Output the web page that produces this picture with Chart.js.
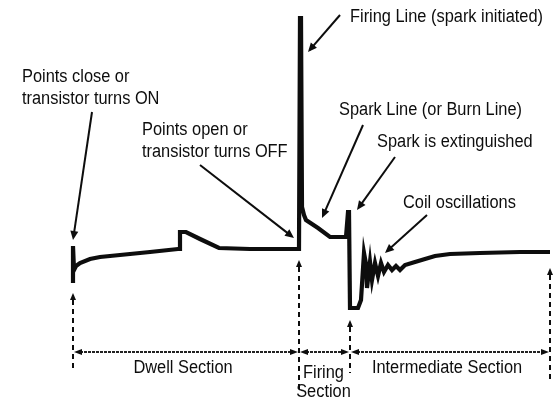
<!DOCTYPE html>
<html>
<head>
<meta charset="utf-8">
<script src="https://cdn.jsdelivr.net/npm/chart.js@4.4.1/dist/chart.umd.min.js"></script>
<style>
  html, body { margin: 0; padding: 0; background: #fff; }
  canvas { display: block; }
</style>
</head>
<body>
<canvas id="chart" width="553" height="401"></canvas>
<script>
// secondary ignition trace: time (ms) and voltage (kV)
const times = [7.3, 7.3, 7.4, 7.6, 8.0, 9.0, 10.0, 12.0, 15.0, 17.8, 18.0, 18.0, 18.6, 20.0, 21.9, 25.0, 29.9,
    30.0, 30.1, 30.2, 30.4, 30.6, 31.8, 33.0, 34.6, 34.8, 34.9, 35.0, 35.8, 36.1, 36.4, 36.6, 36.7, 37.0, 37.2,
    37.5, 37.8, 38.1, 38.4, 38.8, 39.2, 39.6, 40.0, 40.5, 41.5, 42.5, 43.5, 45.0, 48.0, 52.0, 55.0];
const volts = [1.7, 5.4, 3.0, 3.4, 3.7, 4.1, 4.3, 4.5, 4.8, 5.1, 5.1, 6.8, 6.8, 6.1, 5.2, 5.1, 5.1,
    28.2, 28.2, 9.3, 8.5, 8.0, 7.2, 6.3, 6.3, 8.8, 8.8, -0.8, -0.8, 0.0, 4.7, 3.6, 1.2, 3.8, 2.0,
    3.7, 2.4, 3.7, 2.8, 3.5, 3.0, 3.4, 3.0, 3.5, 3.8, 4.1, 4.4, 4.6, 4.7, 4.8, 4.8];

// section boundaries (ms) and their names
const boundaries = [7.3, 29.9, 35.0, 55.0];
const sections = ['Dwell Section', 'Firing\nSection', 'Intermediate Section'];

// callouts: text lines, text anchor, arrow start and arrow tip (ms, kV)
const callouts = [
    { text: ['Points close or', 'transistor turns ON'], at: [2.2, 21.8], from: [9.2, 18.8], to: [7.3, 6.0] },
    { text: ['Points open or', 'transistor turns OFF'], at: [14.2, 16.5], from: [20.0, 13.5], to: [29.4, 6.2] },
    { text: ['Firing Line (spark initiated)'], at: [35.0, 27.8], from: [34.0, 28.5], to: [30.8, 24.8] },
    { text: ['Spark Line (or Burn Line)'], at: [33.9, 18.5], from: [36.3, 17.5], to: [32.2, 8.2] },
    { text: ['Spark is extinguished'], at: [37.7, 15.3], from: [39.5, 14.3], to: [35.7, 9.0] },
    { text: ['Coil oscillations'], at: [40.3, 9.2], from: [42.7, 8.5], to: [38.5, 4.7] }
];

const INK = '#0d0d0d';
const FONT = '18px "Liberation Sans", Arial, sans-serif';
const SQUEEZE = 0.91;

function drawText(ctx, str, x, y, align) {
    ctx.save();
    ctx.font = FONT;
    ctx.fillStyle = INK;
    ctx.textBaseline = 'alphabetic';
    const w = ctx.measureText(str).width * SQUEEZE;
    let left = x;
    if (align === 'center') left = x - w / 2;
    ctx.translate(left, y);
    ctx.scale(SQUEEZE, 1);
    ctx.fillText(str, 0, 0);
    ctx.restore();
}

function arrowHead(ctx, x1, y1, x2, y2, len, wid) {
    const a = Math.atan2(y2 - y1, x2 - x1);
    ctx.beginPath();
    ctx.moveTo(x2, y2);
    ctx.lineTo(x2 - len * Math.cos(a) + wid * Math.sin(a), y2 - len * Math.sin(a) - wid * Math.cos(a));
    ctx.lineTo(x2 - len * Math.cos(a) - wid * Math.sin(a), y2 - len * Math.sin(a) + wid * Math.cos(a));
    ctx.closePath();
    ctx.fill();
}

const annotations = {
    id: 'annotations',
    afterDatasetsDraw(chart) {
        const ctx = chart.ctx;
        const xs = chart.scales.x, ys = chart.scales.y;
        const px = v => xs.getPixelForValue(v);
        const py = v => ys.getPixelForValue(v);
        ctx.save();
        ctx.fillStyle = INK;
        ctx.strokeStyle = INK;

        // callout labels with pointer arrows
        callouts.forEach(c => {
            c.text.forEach((line, i) => drawText(ctx, line, px(c.at[0]), py(c.at[1]) + i * 22, 'left'));
            const x1 = px(c.from[0]), y1 = py(c.from[1]), x2 = px(c.to[0]), y2 = py(c.to[1]);
            ctx.lineWidth = 2;
            ctx.setLineDash([]);
            ctx.beginPath();
            ctx.moveTo(x1, y1);
            ctx.lineTo(x2 - (x2 - x1) * 0.05, y2 - (y2 - y1) * 0.05);
            ctx.stroke();
            arrowHead(ctx, x1, y1, x2, y2, 9, 4);
        });

        // dashed markers under each boundary
        const tops = [0.7, 4.0, -2.0, 3.2];
        const bottoms = [-7.2, -9.2, -7.3, -8.0];
        boundaries.forEach((b, i) => {
            const x = px(b);
            ctx.lineWidth = 2;
            ctx.setLineDash([5, 4]);
            ctx.beginPath();
            ctx.moveTo(x, py(tops[i]) + 7);
            ctx.lineTo(x, py(bottoms[i]));
            ctx.stroke();
            ctx.setLineDash([]);
            arrowHead(ctx, x, py(tops[i]) + 8, x, py(tops[i]), 7, 3);
        });

        // section spans
        const yArrow = py(-5.2);
        sections.forEach((name, i) => {
            const xa = px(boundaries[i]) + 1, xb = px(boundaries[i + 1]) - 1;
            ctx.lineWidth = 1.8;
            ctx.setLineDash([3, 1]);
            ctx.strokeStyle = '#222';
            ctx.beginPath();
            ctx.moveTo(xa + 6, yArrow);
            ctx.lineTo(xb - 6, yArrow);
            ctx.stroke();
            ctx.setLineDash([]);
            arrowHead(ctx, xb - 8, yArrow, xb, yArrow, 8, 3);
            arrowHead(ctx, xa + 8, yArrow, xa, yArrow, 8, 3);
            const mid = (px(boundaries[i]) + px(boundaries[i + 1])) / 2;
            const lines = name.split('\n');
            lines.forEach((l, j) => drawText(ctx, l, mid + (lines.length > 1 ? -1 : -3), yArrow + (lines.length > 1 ? 26 : 21) + j * 19, 'center'));
        });
        ctx.restore();
    }
};

const ctx = document.getElementById('chart').getContext('2d');
new Chart(ctx, {
    type: 'scatter',
    data: {
        datasets: [{
            data: times.map((t, i) => ({ x: t, y: volts[i] })),
            showLine: true,
            borderColor: INK,
            borderWidth: 4.2,
            pointRadius: 0,
            tension: 0,
            borderJoinStyle: 'miter'
        }]
    },
    options: {
        responsive: false,
        animation: false,
        layout: { padding: 0 },
        plugins: { legend: { display: false }, tooltip: { enabled: false } },
        scales: {
            x: { type: 'linear', min: 0, max: 55.3, display: false },
            y: { type: 'linear', min: -10.1, max: 30, display: false }
        }
    },
    plugins: [annotations]
});
</script>
</body>
</html>
